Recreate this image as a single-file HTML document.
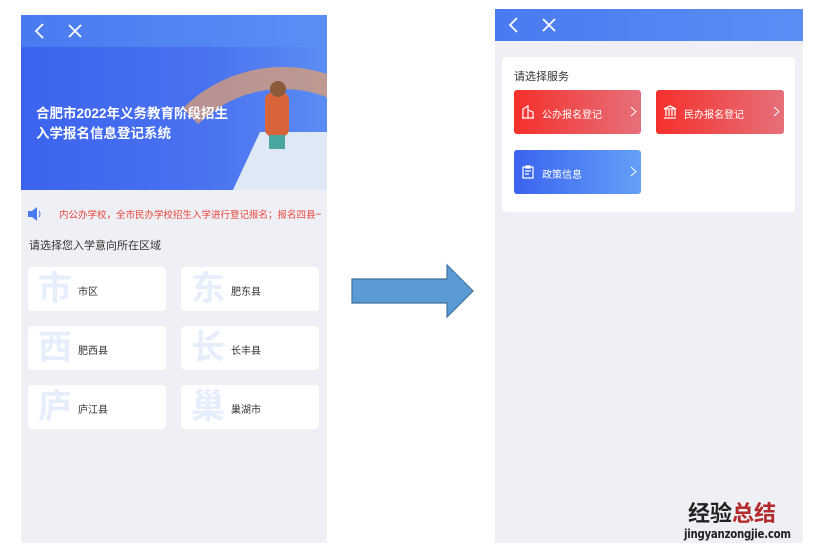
<!DOCTYPE html>
<html><head><meta charset="utf-8"><style>
body{margin:0;width:816px;height:553px;background:#fff;position:relative;overflow:hidden;font-family:"Liberation Sans","Noto Sans CJK SC",sans-serif}
.a{position:absolute}
.card{position:absolute;background:#fff;border-radius:4px}
.big{position:absolute;left:10px;top:4px;font-size:34px;color:#e6eefc;font-weight:bold;line-height:36px}
.lab{position:absolute;left:50px;top:16px;font-size:10px;color:#333}
.btn{position:absolute;border-radius:3px;color:#fff;font-size:10px}
.btn .t{position:absolute;left:28px;top:16px}
.btn svg{position:absolute}
</style></head><body>
<!-- left phone -->
<div class="a" style="left:21px;top:15px;width:306px;height:528px;background:#eef0f5"></div>
<div class="a" style="left:21px;top:15px;width:306px;height:32px;background:linear-gradient(90deg,#4a7af0,#5b8ef5)"></div>
<svg class="a" style="left:33px;top:22px" width="12" height="18"><path d="M10 2L3 9L10 16" stroke="#fff" stroke-width="1.8" fill="none"/></svg>
<svg class="a" style="left:67px;top:23px" width="16" height="16"><path d="M2 2L14 14M14 2L2 14" stroke="#fff" stroke-width="1.8"/></svg>
<div class="a" style="left:21px;top:47px;width:306px;height:143px;background:linear-gradient(90deg,#3c63ee,#4a72f0 60%,#5b8cf2);overflow:hidden">
 <div class="a" style="left:120px;top:20px;width:240px;height:240px;border-radius:50%;border:22px solid transparent;border-top-color:#e8a06a;border-right-color:#7bc6a0;opacity:.7"></div>
 <div class="a" style="left:225px;top:85px;width:100px;height:60px;background:#dfe8f5;transform:skewX(-25deg)"></div>
 <div class="a" style="left:244px;top:45px;width:24px;height:45px;background:#d9643a;border-radius:8px"></div>
 <div class="a" style="left:249px;top:34px;width:16px;height:16px;background:#8a5a3a;border-radius:50%"></div>
 <div class="a" style="left:248px;top:88px;width:16px;height:14px;background:#4aa7a0"></div>
 <div class="a" style="left:15px;top:57px;color:#fff;font-size:13.5px;line-height:20px;font-weight:bold">合肥市2022年义务教育阶段招生<br>入学报名信息登记系统</div>
</div>
<svg class="a" style="left:27px;top:206px" width="16" height="16"><path d="M1 5H5L10 1V15L5 11H1Z" fill="#4a7af0"/><path d="M12 5Q14 8 12 11" stroke="#4a7af0" fill="none"/></svg>
<div class="a" style="left:59px;top:207px;font-size:9.5px;color:#e8453c;white-space:nowrap;width:262px;overflow:hidden">内公办学校，全市民办学校招生入学进行登记报名；报名四县一</div>
<div class="a" style="left:29px;top:237px;font-size:11px;color:#333">请选择您入学意向所在区域</div>
<div class="card" style="left:28px;top:267px;width:138px;height:44px"><div class="big">市</div><div class="lab">市区</div></div>
<div class="card" style="left:181px;top:267px;width:138px;height:44px"><div class="big">东</div><div class="lab">肥东县</div></div>
<div class="card" style="left:28px;top:326px;width:138px;height:44px"><div class="big">西</div><div class="lab">肥西县</div></div>
<div class="card" style="left:181px;top:326px;width:138px;height:44px"><div class="big">长</div><div class="lab">长丰县</div></div>
<div class="card" style="left:28px;top:385px;width:138px;height:44px"><div class="big">庐</div><div class="lab">庐江县</div></div>
<div class="card" style="left:181px;top:385px;width:138px;height:44px"><div class="big">巢</div><div class="lab">巢湖市</div></div>
<!-- arrow -->
<svg class="a" style="left:350px;top:263px" width="126" height="56"><path d="M2 16H97V2L123 28L97 54V40H2Z" fill="#5b9bd5" stroke="#41719c" stroke-width="1.2"/></svg>
<!-- right phone -->
<div class="a" style="left:495px;top:9px;width:308px;height:534px;background:#eef0f5"></div>
<div class="a" style="left:495px;top:9px;width:308px;height:32px;background:linear-gradient(90deg,#4a7af0,#5b8ef5)"></div>
<svg class="a" style="left:507px;top:16px" width="12" height="18"><path d="M10 2L3 9L10 16" stroke="#fff" stroke-width="1.8" fill="none"/></svg>
<svg class="a" style="left:541px;top:17px" width="16" height="16"><path d="M2 2L14 14M14 2L2 14" stroke="#fff" stroke-width="1.8"/></svg>
<div class="card" style="left:502px;top:57px;width:293px;height:155px"></div>
<div class="a" style="left:514px;top:68px;font-size:11px;color:#333">请选择服务</div>
<div class="btn" style="left:514px;top:90px;width:127px;height:44px;background:linear-gradient(90deg,#f5302c,#e6707a)">
 <svg style="left:8px;top:15px" width="12" height="14"><path d="M1 13V4L6 1V13M6 5L11 7V13M0 13H12" stroke="#fff" fill="none" stroke-width="1.2"/></svg>
 <span class="t">公办报名登记</span>
 <svg style="left:116px;top:16px" width="7" height="11"><path d="M1 1L6 5.5L1 10" stroke="#fff" fill="none"/></svg></div>
<div class="btn" style="left:656px;top:90px;width:128px;height:44px;background:linear-gradient(90deg,#f5302c,#e6707a)">
 <svg style="left:7px;top:15px" width="14" height="14"><path d="M1 4L7 1L13 4ZM3 5V11M6 5V11M9 5V11M12 5V11M1 13H13" stroke="#fff" fill="none" stroke-width="1.3"/></svg>
 <span class="t">民办报名登记</span>
 <svg style="left:117px;top:16px" width="7" height="11"><path d="M1 1L6 5.5L1 10" stroke="#fff" fill="none"/></svg></div>
<div class="btn" style="left:514px;top:150px;width:127px;height:44px;background:linear-gradient(90deg,#3a63f0,#64a0f8)">
 <svg style="left:8px;top:15px" width="12" height="14"><path d="M1 2H11V13H1ZM4 1H8V3H4ZM3 6H9M3 9H7" stroke="#fff" fill="none" stroke-width="1.2"/></svg>
 <span class="t">政策信息</span>
 <svg style="left:116px;top:16px" width="7" height="11"><path d="M1 1L6 5.5L1 10" stroke="#fff" fill="none"/></svg></div>
<div class="a" style="left:688px;top:502px;font-size:22px;font-weight:bold;color:#222;line-height:24px">经验<span style="color:#b52a2a">总结</span></div>
<div class="a" style="left:684px;top:527px;font-size:12px;color:#222;font-family:'DejaVu Sans',sans-serif;font-weight:bold;letter-spacing:-0.3px;transform:scaleX(0.85);transform-origin:left">jingyanzongjie.com</div>
</body></html>
